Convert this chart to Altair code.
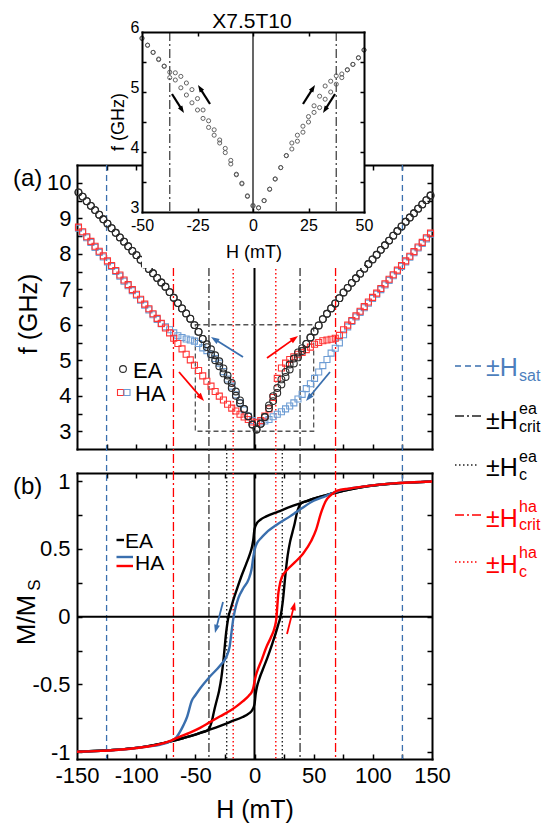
import math
import altair as alt
import pandas as pd

FONT = "Liberation Sans"
W, HT = 534, 815
OX = OY = 8


def px(x):
    return x - OX


def py(y):
    return y - OY


# ------------------------------------------------------------------ data
# panel (a): FMR frequency (GHz) vs field (mT)
H_A = [-148.75, -145.25, -141.75, -138.25, -134.75, -131.25, -127.75, -124.25, -120.75, -117.25,
       -113.75, -110.25, -106.75, -103.25, -99.75, -96.25, -92.75, -89.25, -85.75, -82.25,
       -78.75, -75.25, -71.75, -68.25, -64.75, -61.25, -57.75, -54.25, -50.75, -47.25,
       -43.75, -40.25, -36.75, -33.25, -29.75, -26.25, -22.75, -19.25, -15.75, -12.25,
       -8.75, -5.25, -1.75,
       1.75, 5.25, 8.75, 12.25, 15.75, 19.25, 22.75, 26.25, 29.75, 33.25,
       36.75, 40.25, 43.75, 47.25, 50.75, 54.25, 57.75, 61.25, 64.75, 68.25,
       71.75, 75.25, 78.75, 82.25, 85.75, 89.25, 92.75, 96.25, 99.75, 103.25,
       106.75, 110.25, 113.75, 117.25, 120.75, 124.25, 127.75, 131.25, 134.75, 138.25,
       141.75, 145.25, 148.75]

EA_down = [9.73, 9.61, 9.48, 9.35, 9.23, 9.10, 8.97, 8.85, 8.72, 8.59,
           8.46, 8.34, 8.21, 8.08, 7.96, 7.83, 7.70, 7.57, 7.45, 7.32,
           7.19, 7.07, 6.92, 6.76, 6.61, 6.46, 6.32, 6.17, 5.99, 5.80,
           5.60, 5.45, 5.31, 5.14, 4.97, 4.77, 4.57, 4.36, 4.12, 3.87,
           3.63, 3.42, 3.19,
           3.05, 3.21, 3.40, 3.65, 3.85, 4.08, 4.32, 4.53, 4.74, 4.91,
           5.08, 5.26, 5.46, 5.64, 5.81, 5.98, 6.16, 6.31, 6.46, 6.60,
           6.75, 6.91, 7.04, 7.18, 7.31, 7.44, 7.58, 7.71, 7.84, 7.97,
           8.11, 8.24, 8.37, 8.51, 8.64, 8.77, 8.90, 9.02, 9.14, 9.27,
           9.39, 9.51, 9.64]

EA_up = [9.73, 9.61, 9.48, 9.35, 9.23, 9.10, 8.97, 8.85, 8.72, 8.59,
         8.46, 8.34, 8.21, 8.08, 7.96, 7.83, 7.70, 7.57, 7.45, 7.32,
         7.19, 7.07, 6.92, 6.76, 6.61, 6.46, 6.32, 6.17, 5.99, 5.80,
         5.60, 5.37, 5.17, 5.00, 4.83, 4.63, 4.43, 4.22, 4.00, 3.79,
         3.63, 3.42, 3.19,
         3.05, 3.21, 3.40, 3.73, 3.99, 4.22, 4.46, 4.67, 4.88, 5.05,
         5.22, 5.34, 5.46, 5.64, 5.81, 5.98, 6.16, 6.31, 6.46, 6.60,
         6.75, 6.91, 7.04, 7.18, 7.31, 7.44, 7.58, 7.71, 7.84, 7.97,
         8.11, 8.24, 8.37, 8.51, 8.64, 8.77, 8.90, 9.02, 9.14, 9.27,
         9.39, 9.51, 9.64]

HA_up_red = [8.75, 8.62, 8.48, 8.35, 8.21, 8.07, 7.94, 7.80, 7.67, 7.53,
             7.40, 7.26, 7.13, 6.99, 6.86, 6.72, 6.58, 6.45, 6.31, 6.18,
             6.04, 5.91, 5.77, 5.62, 5.47, 5.32, 5.17, 5.01, 4.86, 4.71,
             4.56, 4.41, 4.27, 4.12, 3.99, 3.88, 3.76, 3.65, 3.57, 3.48,
             3.40, 3.33, 3.26,
             3.24, 3.30, 3.43, 3.63, 3.95, 4.49, 4.78, 4.92, 5.02, 5.10,
             5.17, 5.22, 5.30, 5.37, 5.45, 5.50, 5.55, 5.57, 5.59, 5.62,
             5.70, 5.86, 5.99, 6.12, 6.25, 6.38, 6.51, 6.64, 6.77, 6.89,
             7.02, 7.15, 7.28, 7.41, 7.54, 7.67, 7.80, 7.93, 8.06, 8.19,
             8.32, 8.45, 8.58]

HA_down_blue = [8.72, 8.59, 8.45, 8.32, 8.18, 8.04, 7.91, 7.77, 7.64, 7.50,
                7.37, 7.23, 7.10, 6.96, 6.83, 6.69, 6.55, 6.42, 6.28, 6.15,
                6.03, 5.94, 5.86, 5.77, 5.69, 5.64, 5.60, 5.57, 5.54, 5.47,
                5.35, 5.27, 5.17, 5.05, 4.92, 4.68, 4.47, 4.27, 4.03, 3.80,
                3.60, 3.42, 3.30,
                3.25, 3.26, 3.29, 3.33, 3.41, 3.48, 3.55, 3.63, 3.71, 3.80,
                3.91, 4.04, 4.20, 4.34, 4.49, 4.67, 4.85, 5.02, 5.20, 5.34,
                5.49, 5.72, 5.94, 6.09, 6.22, 6.35, 6.48, 6.61, 6.74, 6.86,
                6.99, 7.12, 7.25, 7.38, 7.51, 7.64, 7.77, 7.90, 8.03, 8.16,
                8.29, 8.42, 8.55]

# inset: X7.5T10, EA sweeps
H_I = [-50, -47.5, -45, -42.5, -40, -37.5, -35, -32.5, -30, -27.5, -25, -22.5, -20, -17.5,
       -15, -12.5, -10, -7.5, -5, -2.5, 0, 2.5, 5, 7.5, 10, 12.5, 15, 17.5, 20, 22.5,
       25, 27.5, 30, 32.5, 35, 37.5, 40, 42.5, 45, 47.5, 50]
IN_down = [5.90, 5.78, 5.66, 5.54, 5.43, 5.33, 5.32, 5.26, 5.15, 5.04,
           4.89, 4.70, 4.52, 4.37, 4.20, 4.06, 3.86, 3.63, 3.48, 3.26,
           3.10, 3.07, 3.19, 3.38, 3.55, 3.74, 3.94, 4.05, 4.18, 4.33,
           4.50, 4.66, 4.74, 4.88, 5.00, 5.13, 5.24, 5.37, 5.46, 5.57, 5.70]
IN_up = [5.89, 5.78, 5.66, 5.55, 5.43, 5.24, 5.20, 5.07, 4.95, 4.82,
         4.70, 4.56, 4.41, 4.28, 4.15, 3.99, 3.80, 3.62, 3.47, 3.27,
         3.11, 3.07, 3.19, 3.38, 3.55, 3.74, 3.94, 4.15, 4.28, 4.43,
         4.59, 4.77, 4.93, 5.10, 5.18, 5.27, 5.30, 5.37, 5.46, 5.57, 5.70]

# panel (b): hysteresis loops M/Ms vs H
H_EA_up = [-150, -140, -130, -120, -110, -100, -90, -80, -70, -60, -50, -40,
           -30, -20, -10, -5, -2, 0, 1, 2, 4, 7, 11, 15, 18, 20, 22, 24, 26, 28, 30, 32, 34, 36, 38,
           40, 45, 50, 60, 70, 80, 90, 100, 110, 120, 130, 140, 150]
M_EA_up = [-0.997, -0.993, -0.989, -0.984, -0.977, -0.968, -0.955, -0.938, -0.918, -0.895, -0.87, -0.84,
           -0.81, -0.775, -0.74, -0.715, -0.69, -0.645, -0.57, -0.52, -0.46, -0.39, -0.3, -0.2, -0.12,
           -0.06, 0.0, 0.12, 0.3, 0.45, 0.55, 0.62, 0.69, 0.77, 0.82,
           0.84, 0.855, 0.87, 0.895, 0.918, 0.938, 0.955, 0.968, 0.977, 0.984, 0.989, 0.993, 0.997]
H_EA_down = [150, 140, 130, 120, 110, 100, 90, 80, 70, 60, 50, 40,
             30, 20, 10, 5, 2, 0, -1, -2, -4, -7, -11, -15, -18, -20, -22, -24, -26, -28, -30, -32,
             -34, -36, -38,
             -40, -45, -50, -60, -70, -80, -90, -100, -110, -120, -130, -140, -150]
M_EA_down = [0.997, 0.993, 0.989, 0.984, 0.977, 0.968, 0.955, 0.938, 0.918, 0.895, 0.87, 0.84,
             0.81, 0.775, 0.74, 0.715, 0.69, 0.645, 0.57, 0.52, 0.46, 0.39, 0.3, 0.2, 0.12,
             0.06, 0.0, -0.12, -0.3, -0.45, -0.55, -0.62, -0.69, -0.77, -0.82,
             -0.84, -0.855, -0.87, -0.895, -0.918, -0.938, -0.955, -0.968, -0.977, -0.984, -0.989,
             -0.993, -0.997]
H_HA_down = [150, 140, 130, 120, 110, 100, 90, 80, 70, 60, 50, 40, 35, 30, 20, 10, 5, 3, 1, 0,
             -1, -2.5, -5, -9.5, -13.5, -16.5, -18, -19.5, -21, -23.5, -29, -37.5, -46, -50, -53,
             -57, -60, -63, -66, -70, -80, -90, -100, -110, -120, -130, -140, -150]
M_HA_down = [0.997, 0.994, 0.99, 0.985, 0.978, 0.969, 0.958, 0.945, 0.925, 0.89, 0.855, 0.8, 0.77,
             0.74, 0.685, 0.62, 0.575, 0.555, 0.52, 0.49, 0.44, 0.35, 0.275, 0.21, 0.14, 0.05,
             -0.02, -0.12, -0.22, -0.29, -0.36, -0.44, -0.53, -0.58, -0.62, -0.74, -0.8, -0.85,
             -0.89, -0.915, -0.945, -0.958, -0.969, -0.978, -0.985, -0.99, -0.994, -0.997]
H_HA_up = [-150, -140, -130, -120, -110, -100, -90, -80, -70, -63, -55, -46, -38, -29, -20, -15,
           -10, -5, -2, -1, 0, 1, 2, 6, 10, 14, 17, 18.5, 19.3, 20, 21, 23, 27, 34, 41, 48, 52, 56,
           60, 65, 70, 80, 90, 100, 110, 120, 130, 140, 150]
M_HA_up = [-0.997, -0.994, -0.99, -0.985, -0.978, -0.969, -0.958, -0.94, -0.912, -0.885, -0.857,
           -0.82, -0.78, -0.735, -0.69, -0.66, -0.625, -0.585, -0.55, -0.525, -0.48, -0.44, -0.41,
           -0.32, -0.225, -0.15, -0.08, -0.01, 0.08, 0.16, 0.22, 0.29, 0.34, 0.4, 0.465, 0.56,
           0.64, 0.76, 0.85, 0.9, 0.93, 0.945, 0.958, 0.969, 0.978, 0.985, 0.99, 0.994, 0.997]

# characteristic fields (mT)
H_SAT, H_CRIT_EA, H_C_EA, H_CRIT_HA, H_C_HA = 125, 38.5, 23.5, 68.5, 18
H_CRIT_INSET = 37.5
BOX_H = [-50, 50]
BOX_F = [3, 6]

# axis tick values
A_Y_LAB = [3, 4, 5, 6, 7, 8, 9, 10]
A_Y_TCK = [3, 3.5, 4, 4.5, 5, 5.5, 6, 6.5, 7, 7.5, 8, 8.5, 9, 9.5, 10]
X_TCK = [-125, -100, -75, -50, -25, 0, 25, 50, 75, 100, 125]
B_X_LAB = [-150, -100, -50, 0, 50, 100, 150]
B_Y_LAB = [-1, -0.5, 0, 0.5, 1]
B_Y_TCK = [-1, -0.75, -0.5, -0.25, 0, 0.25, 0.5, 0.75, 1]
I_X_LAB = [-50, -25, 0, 25, 50]
I_X_TCK = [-25, 0, 25]
I_Y_LAB = [3, 4, 5, 6]
I_Y_TCK = [3.5, 4, 4.5, 5, 5.5]

# ------------------------------------------------------------------ style
BLUE = "#3a6fae"
BLUE_SQ = "#6e9dd4"
BLUE_TXT = "#4d7fbd"
RED = "#ff0000"
RED_SQ = "#ff3535"
CIRC = "#2a2a2a"
DASH = [6, 4]
DASHDOT = [9, 3, 2, 3]
DOT = [1.5, 2.5]
LBL = "'' + datum.value"

# frames (page pixels)
A_L, A_R, A_T, A_B = 77, 432, 165, 449
B_T, B_B = 473, 759
I_L, I_R, I_T, I_B = 142, 364, 32, 212

xA = alt.Scale(domain=[-150, 150], range=[px(A_L), px(A_R)], nice=False, zero=False)
yA = alt.Scale(domain=[2.5, 10.5], range=[py(A_B), py(A_T)], nice=False, zero=False)
yB = alt.Scale(domain=[-1.05, 1.06], range=[py(B_B), py(B_T)], nice=False, zero=False)
xI = alt.Scale(domain=[-50, 50], range=[px(I_L), px(I_R)], nice=False, zero=False)
yI = alt.Scale(domain=[3, 6], range=[py(I_B), py(I_T)], nice=False, zero=False)

one = pd.DataFrame({"k": [0]})


def ax(orient, offset, values=None, labels=False, ticks=False, domain=False, size=22, pad=6, z=0,
       tick=5, loff=0):
    kw = dict(orient=orient, offset=offset, grid=False, title=None, labels=labels, ticks=ticks,
              domain=domain, domainColor="black", domainWidth=2, domainCap="square",
              tickColor="black", tickWidth=1.5, tickSize=tick, labelFont=FONT, labelFontSize=size,
              labelColor="black", labelPadding=pad, labelFlush=False, labelOverlap=False,
              zindex=z, labelExpr=LBL, labelOffset=loff)
    if values is not None:
        kw["values"] = values
    return alt.Axis(**kw)


def axes_layer(xs, ys, xm, ym, xaxis, yaxis):
    d = pd.DataFrame({"u": [xm], "v": [ym]})
    return alt.Chart(d).mark_point(opacity=0).encode(
        x=alt.X("u:Q", scale=xs, axis=xaxis), y=alt.Y("v:Q", scale=ys, axis=yaxis))


def txt(s, x, y, size, color="black", align="left", baseline="alphabetic", angle=0):
    kw = dict(text=s, font=FONT, fontSize=size, color=color, align=align, baseline=baseline)
    if angle:
        kw["angle"] = angle
    return alt.Chart(one).mark_text(**kw).encode(x=alt.value(px(x)), y=alt.value(py(y)))


def seg(x0, y0, x1, y1, color, width, dash=None):
    kw = dict(color=color, strokeWidth=width)
    if dash:
        kw["strokeDash"] = dash
    return alt.Chart(one).mark_rule(**kw).encode(
        x=alt.value(px(x0)), y=alt.value(py(y0)), x2=alt.value(px(x1)), y2=alt.value(py(y1)))


HEAD = "M0,0L-0.62,1.75L0.62,1.75Z"


def arrow(x0, y0, x1, y1, color, width=1.8, size=90):
    dx, dy = x1 - x0, y1 - y0
    L = math.hypot(dx, dy)
    ang = math.degrees(math.atan2(dx, -dy)) % 360
    hl = 1.75 * math.sqrt(size) / 2
    ex, ey = x1 - dx / L * hl * 0.7, y1 - dy / L * hl * 0.7
    head = alt.Chart(one).mark_point(shape=HEAD, size=size, filled=True, color=color, opacity=1,
                                     angle=ang, strokeWidth=0).encode(
        x=alt.value(px(x1)), y=alt.value(py(y1)))
    return [seg(x0, y0, ex, ey, color, width), head]


def vrules(vals, y0, y1, color, width, dash=None, scale=xA):
    d = pd.DataFrame({"H": vals})
    kw = dict(color=color, strokeWidth=width)
    if dash:
        kw["strokeDash"] = dash
    return alt.Chart(d).mark_rule(**kw).encode(
        x=alt.X("H:Q", scale=scale, axis=None), y=alt.value(py(y0)), y2=alt.value(py(y1)))


def marker(x, y, shape, size, color, sw=1.1):
    return alt.Chart(one).mark_point(shape=shape, size=size, color=color, filled=False,
                                     strokeWidth=sw, opacity=1).encode(
        x=alt.value(px(x)), y=alt.value(py(y)))


layers = []

# ---------------- axes / frames, panel (a) and (b)
layers.append(axes_layer(xA, yA, 0, 6,
                         ax("bottom", py(A_B) - HT, domain=True),
                         ax("left", -px(A_L), values=A_Y_LAB, labels=True, domain=True, pad=6)))
layers.append(axes_layer(xA, yA, 0, 6,
                         ax("top", -py(A_B), values=X_TCK, ticks=True),
                         ax("right", px(A_L) - W, values=A_Y_TCK, ticks=True)))
layers.append(axes_layer(xA, yA, 0, 6,
                         ax("bottom", py(A_T) - HT, values=X_TCK, ticks=True, domain=True),
                         ax("left", -px(A_R), values=A_Y_TCK, ticks=True, domain=True)))
layers.append(axes_layer(xA, yB, 0, 0,
                         ax("bottom", py(B_B) - HT, values=B_X_LAB, labels=True, domain=True, pad=6),
                         ax("left", -px(A_L), values=B_Y_LAB, labels=True, domain=True, pad=7)))
layers.append(axes_layer(xA, yB, 0, 0,
                         ax("top", -py(B_B), values=X_TCK, ticks=True),
                         ax("right", px(A_L) - W, values=B_Y_TCK, ticks=True)))
layers.append(axes_layer(xA, yB, 0, 0,
                         ax("bottom", py(B_T) - HT, values=X_TCK, ticks=True, domain=True),
                         ax("left", -px(A_R), values=B_Y_TCK, ticks=True, domain=True)))

# ---------------- characteristic field lines (through both panels)
layers.append(vrules([-H_SAT, H_SAT], A_T, B_B, BLUE, 1.3, DASH))
layers.append(vrules([-H_CRIT_HA, H_CRIT_HA], A_T, B_B, RED, 1.3, DASHDOT))
layers.append(vrules([-H_CRIT_EA, H_CRIT_EA], A_T, B_B, "#333333", 1.3, DASHDOT))
layers.append(vrules([-H_C_HA, H_C_HA], A_T, B_B, RED, 1.4, DOT))
layers.append(vrules([-H_C_EA, H_C_EA], A_B, B_B, "#222222", 1.4, DOT))
layers.append(vrules([0], A_T, A_B, "black", 2))
layers.append(vrules([0], B_T, B_B, "black", 2))

# ---------------- panel (a) data
box = pd.DataFrame({"h0": [BOX_H[0]], "h1": [BOX_H[1]], "f0": [BOX_F[0]], "f1": [BOX_F[1]]})
layers.append(alt.Chart(box).mark_rect(fillOpacity=0, stroke="#555555", strokeWidth=1.3,
                                       strokeDash=[5, 3]).encode(
    x=alt.X("h0:Q", scale=xA, axis=None), x2="h1:Q",
    y=alt.Y("f0:Q", scale=yA, axis=None), y2="f1:Q"))

dfA = pd.DataFrame({"H": H_A, "ea_dn": EA_down, "ea_up": EA_up, "ha_up": HA_up_red, "ha_dn": HA_down_blue})


def ptsA(col, shape, size, color, sw=1.1):
    return alt.Chart(dfA).mark_point(shape=shape, size=size, color=color, filled=False,
                                     strokeWidth=sw, opacity=1).encode(
        x=alt.X("H:Q", scale=xA, axis=None), y=alt.Y(f"{col}:Q", scale=yA, axis=None))


layers.append(ptsA("ha_dn", "square", 36, BLUE_SQ))
layers.append(ptsA("ha_up", "square", 36, RED_SQ))
layers.append(ptsA("ea_dn", "circle", 46, CIRC))
layers.append(ptsA("ea_up", "circle", 46, CIRC))

# legend (a)
layers.append(marker(123, 369, "circle", 46, CIRC))
layers.append(txt("EA", 133, 378, 22))
layers.append(marker(120.5, 392.5, "square", 36, RED_SQ))
layers.append(marker(127, 392.5, "square", 36, BLUE_SQ))
layers.append(txt("HA", 135, 401, 22))

# arrows (a)
layers += arrow(243, 357, 211, 337, BLUE)
layers += arrow(179, 372, 204, 401, RED)
layers += arrow(267, 358, 298, 336, RED)
layers += arrow(330, 372, 306, 401, BLUE)

# ---------------- panel (b) data
layers.append(alt.Chart(pd.DataFrame({"M": [0]})).mark_rule(color="black", strokeWidth=2).encode(
    y=alt.Y("M:Q", scale=yB, axis=None), x=alt.value(px(A_L)), x2=alt.value(px(A_R))))


def curve(H, M, color):
    d = pd.DataFrame({"H": H, "M": M})
    return alt.Chart(d).mark_line(color=color, strokeWidth=2.4, interpolate="monotone").encode(
        x=alt.X("H:Q", scale=xA, axis=None), y=alt.Y("M:Q", scale=yB, axis=None))


layers.append(curve(H_EA_up, M_EA_up, "black"))
layers.append(curve(H_EA_down, M_EA_down, "black"))
layers.append(curve(H_HA_down, M_HA_down, BLUE))
layers.append(curve(H_HA_up, M_HA_up, RED))

# legend (b)
layers.append(seg(116.5, 540, 124, 540, "black", 2.4))
layers.append(txt("EA", 125, 548, 21))
layers.append(seg(116.5, 557, 133, 557, BLUE, 2.4))
layers.append(seg(116.5, 566, 133, 566, RED, 2.4))
layers.append(txt("HA", 135, 570, 21))

layers += arrow(223, 602, 215, 633, BLUE)
layers += arrow(287, 634, 295, 602, RED)

# ---------------- inset
layers.append(alt.Chart(one).mark_rect(color="white", opacity=1).encode(
    x=alt.value(px(I_L)), x2=alt.value(px(I_R)), y=alt.value(py(30)), y2=alt.value(py(268))))
layers.append(axes_layer(xI, yI, 0, 4.5,
                         ax("bottom", py(I_B) - HT, values=I_X_LAB, labels=True, domain=True, size=16,
                            pad=5, z=1),
                         ax("left", -px(I_L), values=I_Y_LAB, labels=True, domain=True, size=16,
                            pad=3, z=1, loff=-5)))
layers.append(axes_layer(xI, yI, 0, 4.5,
                         ax("top", -py(I_B), values=I_X_TCK, ticks=True, z=1, tick=4),
                         ax("right", px(I_L) - W, values=I_Y_TCK, ticks=True, z=1, tick=4)))
layers.append(axes_layer(xI, yI, 0, 4.5,
                         ax("bottom", py(I_T) - HT, values=I_X_TCK, ticks=True, domain=True, z=1, tick=4),
                         ax("left", -px(I_R), values=I_Y_TCK, ticks=True, domain=True, z=1, tick=4)))
layers.append(vrules([-H_CRIT_INSET, H_CRIT_INSET], I_T, I_B, "#444444", 1.3, DASHDOT, scale=xI))
layers.append(vrules([0], I_T, I_B, "black", 1.2, scale=xI))

dfI = pd.DataFrame({"H": H_I, "dn": IN_down, "up": IN_up})
for col in ("dn", "up"):
    layers.append(alt.Chart(dfI).mark_point(shape="circle", size=17, color="#555555", filled=False,
                                            strokeWidth=0.9, opacity=1).encode(
        x=alt.X("H:Q", scale=xI, axis=None), y=alt.Y(f"{col}:Q", scale=yI, axis=None)))

layers += arrow(172, 94, 184, 113, "black", 2.2, 70)
layers += arrow(210, 104, 198, 85, "black", 2.2, 70)
layers += arrow(303, 104, 315, 85, "black", 2.2, 70)
layers += arrow(335, 94, 323, 113, "black", 2.2, 70)

layers.append(txt("X7.5T10", 252, 28, 21, align="center"))
layers.append(txt("f (GHz)", 119, 122, 18, align="center", baseline="middle", angle=270))
layers.append(txt("H (mT)", 254, 258, 18, align="center"))

# ---------------- titles / panel labels
layers.append(txt("(a)", 13, 186, 24))
layers.append(txt("(b)", 13, 494, 24))
layers.append(txt("f (GHz)", 29, 314, 25, align="center", baseline="middle", angle=270))
layers.append(txt("M/M", 27, 620, 26, align="center", baseline="middle", angle=270))
layers.append(txt("S", 35, 585, 17, align="center", baseline="middle", angle=270))
layers.append(txt("H (mT)", 255, 818, 25, align="center"))

# ---------------- side legend
legend_items = [
    (366, 376, DASH, BLUE, BLUE_TXT, None, None, "sat", 381),
    (416, 429, DASHDOT, "#222222", "black", "ea", 414, "crit", 432),
    (465, 476, DOT, "#222222", "black", "ea", 462, "c", 480),
    (515, 527, DASHDOT, RED, RED, "ha", 512, "crit", 530),
    (562, 573, DOT, RED, RED, "ha", 558, "c", 577),
]
for yl, yb, dash, lc, tc, sup, ysup, sub, ysub in legend_items:
    x_end = 478 if dash is DOT else 483
    layers.append(seg(455, yl, x_end, yl, lc, 1.3, dash))
    layers.append(txt("\u00b1H", 486, yb, 25, tc))
    if sup:
        layers.append(txt(sup, 519, ysup, 16, tc))
    layers.append(txt(sub, 519, ysub, 16, tc))

chart = alt.layer(*layers).resolve_scale(x="independent", y="independent").properties(
    width=W, height=HT, padding=0, autosize=alt.AutoSizeParams(type="none"), background="white"
).configure_view(strokeWidth=0)

chart.save("out.html", embed_options={"renderer": "svg", "actions": False})
